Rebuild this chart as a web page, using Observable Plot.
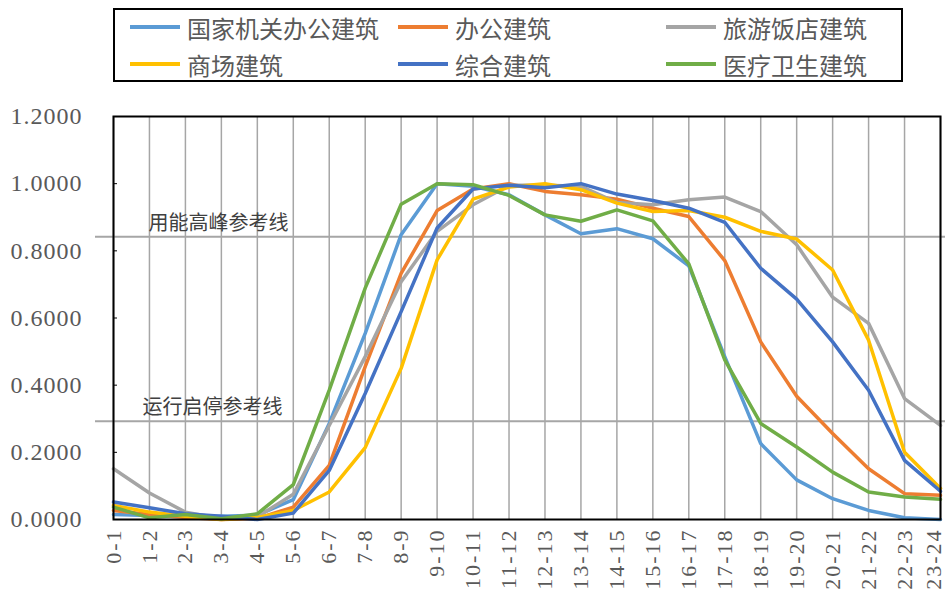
<!DOCTYPE html>
<html><head><meta charset="utf-8">
<script src="https://cdn.jsdelivr.net/npm/d3@7"></script>
<script src="https://cdn.jsdelivr.net/npm/@observablehq/plot@0.6"></script>
<style>
body{margin:0;background:#fff;}
#wrap{position:relative;width:946px;height:599px;overflow:hidden;}
#legend{position:absolute;left:113px;top:8px;width:786px;height:70px;border:2px solid #000;font-family:"Noto Sans CJK SC",sans-serif;font-size:24px;color:#595959;}
.item{position:absolute;display:flex;align-items:center;height:30px;white-space:nowrap;}
.sw{width:50px;height:4px;margin-right:7px;}
#chart{position:absolute;left:0;top:0;}
#chart g[aria-label="x-axis tick label"] text{letter-spacing:2px;}
#chart g[aria-label="y-axis tick label"] text{letter-spacing:1px;}
</style>
</head><body>
<div id="wrap"><div id="chart"></div><div id="legend"></div></div>
<script>
const hours = ["0-1","1-2","2-3","3-4","4-5","5-6","6-7","7-8","8-9","9-10","10-11","11-12","12-13","13-14","14-15","15-16","16-17","17-18","18-19","19-20","20-21","21-22","22-23","23-24"];
const seriesNames = ["国家机关办公建筑","办公建筑","旅游饭店建筑","商场建筑","综合建筑","医疗卫生建筑"];
const seriesColors = ["#5b9bd5","#ed7d31","#a5a5a5","#ffc000","#4472c4","#70ad47"];
const govOffice = [0.015,0.012,0.010,0.010,0.013,0.059,0.286,0.554,0.848,1.000,0.992,0.967,0.907,0.851,0.866,0.836,0.755,0.485,0.226,0.118,0.062,0.027,0.005,0.000];
const office = [0.027,0.015,0.006,0.000,0.003,0.037,0.161,0.455,0.733,0.920,0.984,1.000,0.977,0.967,0.954,0.927,0.902,0.771,0.529,0.367,0.256,0.151,0.077,0.072];
const hotel = [0.151,0.079,0.022,0.003,0.008,0.075,0.280,0.485,0.708,0.858,0.937,0.995,0.995,0.992,0.944,0.937,0.952,0.960,0.917,0.818,0.662,0.584,0.360,0.280];
const mall = [0.042,0.022,0.010,0.000,0.006,0.027,0.082,0.214,0.450,0.773,0.954,0.990,1.000,0.982,0.942,0.917,0.920,0.900,0.858,0.835,0.743,0.534,0.200,0.092];
const complexBldg = [0.052,0.035,0.017,0.010,0.000,0.019,0.146,0.375,0.619,0.868,0.984,0.995,0.988,1.000,0.969,0.950,0.927,0.885,0.748,0.656,0.529,0.385,0.176,0.084];
const medical = [0.037,0.005,0.015,0.002,0.017,0.104,0.385,0.689,0.939,1.000,0.997,0.965,0.907,0.888,0.922,0.889,0.761,0.475,0.286,0.216,0.141,0.082,0.067,0.060];
const yTicks = [0,0.2,0.4,0.6,0.8,1.0,1.2];
const refValues = [0.842,0.2925];
const refLabels = ["用能高峰参考线","运行启停参考线"];

const seriesValues = [govOffice, office, hotel, mall, complexBldg, medical];
const long = seriesNames.flatMap((name, s) => hours.map((h, i) => ({hour: h, value: seriesValues[s][i], name})));
const xLabelStyle = {tickSize: 0, tickRotate: -90, tickPadding: 9, fontSize: 22, fontFamily: "Liberation Serif", fill: "#595959", label: null};

const chart = Plot.plot({
  width: 946, height: 599,
  marginTop: 116, marginBottom: 80, marginLeft: 113, marginRight: 6,
  style: {background: "transparent"},
  x: {type: "point", domain: hours, padding: 0, round: false},
  y: {domain: [0, 1.2]},
  color: {domain: seriesNames, range: seriesColors},
  marks: [
    Plot.ruleX(hours, {x: d => d, stroke: "#a6a6a6", strokeWidth: 1.5}),
    Plot.ruleY(refValues, {y: d => d, stroke: "#a6a6a6", strokeWidth: 2, insetLeft: -18, insetRight: -5}),
    Plot.text([refLabels[0]], {x: () => hours[1], y: () => refValues[0], text: d => d, textAnchor: "start", dy: -13, dx: -1, fontSize: 20, fontFamily: "Noto Sans CJK SC", fill: "#404040"}),
    Plot.text([refLabels[1]], {x: () => hours[1], y: () => refValues[1], text: d => d, textAnchor: "start", dy: -14, dx: -7, fontSize: 20, fontFamily: "Noto Sans CJK SC", fill: "#404040"}),
    Plot.lineY(long, {x: "hour", y: "value", z: "name", stroke: "name", strokeWidth: 3.5, strokeLinejoin: "round", strokeLinecap: "round"}),
    Plot.frame({stroke: "#000", strokeWidth: 2}),
    Plot.axisY({ticks: yTicks, tickSize: 4, dx: 4, tickFormat: () => "", stroke: "#000", label: null}),
    Plot.axisY({ticks: yTicks, tickSize: 0, tickPadding: 31, tickFormat: d3.format(".4f"), fontSize: 24, fontFamily: "Liberation Serif", fill: "#595959", label: null}),
    Plot.axisX({...xLabelStyle, ticks: hours.slice(0, -1)}),
    Plot.axisX({...xLabelStyle, ticks: hours.slice(-1), dx: -7})
  ]
});
document.getElementById("chart").appendChild(chart);

const legend = document.getElementById("legend");
const colX = [15, 283, 551];
const rowY = [2, 39];
seriesNames.forEach((name, i) => {
  const it = document.createElement("div");
  it.className = "item";
  it.style.left = colX[i % 3] + "px";
  it.style.top = rowY[Math.floor(i / 3)] + "px";
  const sw = document.createElement("span");
  sw.className = "sw";
  sw.style.background = seriesColors[i];
  const tx = document.createElement("span");
  tx.textContent = name;
  it.appendChild(sw); it.appendChild(tx);
  legend.appendChild(it);
});
</script>
</body></html>
